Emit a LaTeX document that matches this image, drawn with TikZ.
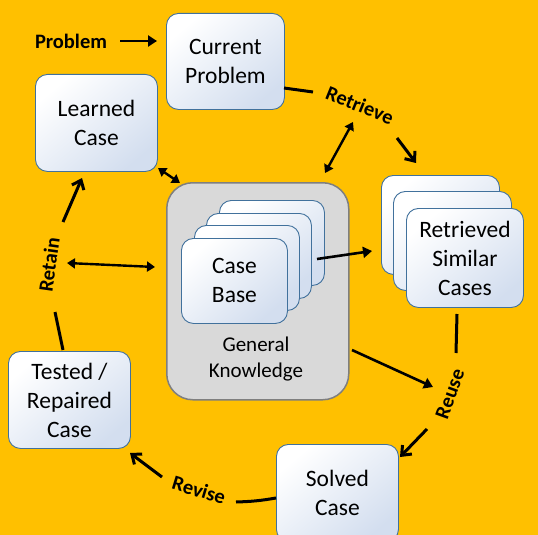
\documentclass[tikz,border=0pt]{standalone}
\usepackage{fontspec}
\setmainfont{Carlito}
\usetikzlibrary{arrows.meta,calc}
\definecolor{bg}{HTML}{FFC000}
\definecolor{boxedge}{HTML}{41719C}
\definecolor{boxshade}{HTML}{D3DEEF}
\definecolor{gk}{HTML}{D9D9D9}
\definecolor{gkedge}{HTML}{7F7F7F}
\tikzset{
  casebox/.style={draw=boxedge, line width=0.9pt, rounded corners=12pt,
    top color=white, bottom color=boxshade, shading angle=40,
    anchor=north west, align=center, inner sep=0pt,
    font=\fontsize{23.5}{29}\selectfont},
  gkbox/.style={draw=gkedge, fill=gk, line width=1.5pt, rounded corners=26pt,
    anchor=north west, inner sep=0pt},
  lbl/.style={font=\bfseries\fontsize{20.5}{23}\selectfont, inner sep=0pt},
  cyc/.style={line width=3pt, -{Straight Barb[length=8pt,width=13pt,line width=3pt]}},
  cycline/.style={line width=3pt},
  fillarr/.style={line width=2.6pt, -{Triangle[length=9pt,width=11pt]}},
  dblarr/.style={line width=2.4pt, {Triangle[length=8pt,width=10pt]}-{Triangle[length=8pt,width=10pt]}},
}
\begin{document}
\begin{tikzpicture}[x=1pt,y=-1pt]
\useasboundingbox (0,0) rectangle (538,535);
\fill[bg] (0,0) rectangle (538,535);
\clip (0,0) rectangle (538,535);

% boxes
\node[casebox, minimum width=118pt, minimum height=96pt] (cur) at (166,13) {Current\\Problem};
\node[casebox, minimum width=122pt, minimum height=97pt] (learn) at (35,74) {Learned\\Case};
\node[casebox, minimum width=122pt, minimum height=97pt] (tested) at (8,351) {Tested /\\Repaired\\Case};
\node[casebox, minimum width=122pt, minimum height=97pt] (solved) at (276,444) {Solved\\Case};

% general knowledge container
\node[gkbox, minimum width=182pt, minimum height=217pt] (gk) at (166,182) {};
\node[font=\fontsize{21}{26}\selectfont, align=center, inner sep=0pt] (gktext) at (256,359) {General\\Knowledge};

% case base stack
\node[casebox, minimum width=105pt, minimum height=85pt] (cb4) at (219,200) {};
\node[casebox, minimum width=105pt, minimum height=85pt] (cb3) at (206,213) {};
\node[casebox, minimum width=105pt, minimum height=85pt] (cb2) at (194,225) {};
\node[casebox, minimum width=106pt, minimum height=85pt] (cb1) at (181,238) {Case\\Base};

% retrieved stack
\node[casebox, minimum width=118pt, minimum height=99pt] (rs3) at (381,175) {};
\node[casebox, minimum width=118pt, minimum height=99pt] (rs2) at (393,191) {};
\node[casebox, minimum width=117pt, minimum height=99pt] (rs1) at (406,208) {Retrieved\\Similar\\Cases};

% labels
\node[lbl] (lprob) at (71,41) {Problem};
\node[lbl, rotate=-22] (lretr) at (360,105) {Retrieve};
\node[lbl, rotate=82] (lretain) at (49,265) {Retain};
\node[lbl, rotate=70] (lreuse) at (450,394) {Reuse};
\node[lbl, rotate=-17] (lrevise) at (199,490) {Revise};

% coordinates
\coordinate (p1) at (120,41);
\coordinate (p2) at (157,41);
\coordinate (r0) at (284,88);
\coordinate (r1) at (313,92);
\coordinate (r2) at (397,138);
\coordinate (r3) at (416,163);
\coordinate (u0) at (457,314);
\coordinate (u1) at (456,353);
\coordinate (u2) at (427,429);
\coordinate (u3) at (400,457);
\coordinate (v0) at (276,498);
\coordinate (v1) at (236,502);
\coordinate (v2) at (162,477);
\coordinate (v3) at (130,453);
\coordinate (t0) at (63,350);
\coordinate (t1) at (55,312);
\coordinate (t2) at (63,222);
\coordinate (t3) at (82,178);
\coordinate (d1a) at (158,168);
\coordinate (d1b) at (180,183);
\coordinate (d2a) at (353,122);
\coordinate (d2b) at (325,173);
\coordinate (d3a) at (67,263);
\coordinate (d3b) at (155,267);
\coordinate (c1) at (317,259);
\coordinate (c2) at (372,251);
\coordinate (g1) at (352,350);
\coordinate (g2) at (433,387);

% connectors
\draw[fillarr] (p1) -- (p2);
\draw[cycline] (r0) -- (r1);
\draw[cyc] (r2) -- (r3);
\draw[cycline] (u0) -- (u1);
\draw[cyc] (u2) -- (u3);
\draw[cycline] (v0) to[bend left=4] (v1);
\draw[cyc] (v2) -- (v3);
\draw[cycline] (t0) -- (t1);
\draw[cyc] (t2) -- (t3);
\draw[dblarr] (d1a) -- (d1b);
\draw[dblarr] (d2a) -- (d2b);
\draw[dblarr] (d3a) -- (d3b);
\draw[fillarr] (c1) -- (c2);
\draw[fillarr] (g1) -- (g2);
\end{tikzpicture}
\end{document}
